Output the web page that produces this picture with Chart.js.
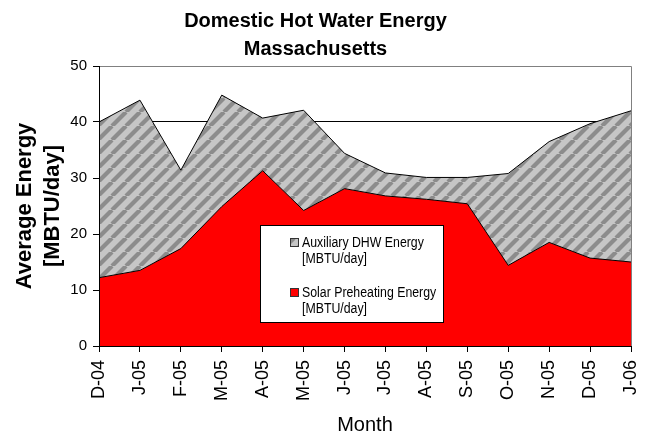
<!DOCTYPE html>
<html>
<head>
<meta charset="utf-8">
<script src="https://cdn.jsdelivr.net/npm/chart.js@4.4.1/dist/chart.umd.min.js"></script>
<style>
  html, body { margin: 0; padding: 0; background: #fff; }
  canvas { display: block; }
</style>
</head>
<body>
<canvas id="dhwChart" width="650" height="438"></canvas>
<script>
// データ
const months = ['D-04', 'J-05', 'F-05', 'M-05', 'A-05', 'M-05', 'J-05', 'J-05', 'A-05', 'S-05', 'O-05', 'N-05', 'D-05', 'J-06'];
const solarEnergy = [12.2, 13.5, 17.4, 24.9, 31.3, 24.2, 28.1, 26.8, 26.2, 25.4, 14.4, 18.5, 15.7, 15.0];
const auxEnergy = [27.8, 30.4, 14.0, 19.9, 9.4, 17.9, 6.3, 4.1, 3.9, 4.7, 16.4, 18.0, 24.0, 27.0];
const yTicks = [0, 10, 20, 30, 40, 50];
const solarLabel = ['Solar Preheating Energy', '[MBTU/day]'];
const auxLabel = ['Auxiliary DHW Energy', '[MBTU/day]'];

const FONT = "'Liberation Sans', Arial, sans-serif";

// 斜線パターン
function makeHatch() {
    const size = 14;
    const c = document.createElement('canvas');
    c.width = size;
    c.height = size;
    const g = c.getContext('2d');
    g.fillStyle = '#c6c6c6';
    g.fillRect(0, 0, size, size);
    g.strokeStyle = '#8c8c8c';
    g.lineWidth = 4.2;
    [-size, 0, size].forEach(off => {
        g.beginPath();
        g.moveTo(off, size);
        g.lineTo(off + size, 0);
        g.stroke();
    });
    return g.createPattern(c, 'repeat');
}

const ctx = document.getElementById('dhwChart').getContext('2d');
const hatch = makeHatch();

// 枠線と凡例
const framePlugin = {
    id: 'frame',
    afterDatasetsDraw(chart) {
        const { ctx, chartArea: a } = chart;
        ctx.save();
        ctx.lineWidth = 1;
        ctx.strokeStyle = '#808080';
        ctx.beginPath();
        ctx.moveTo(a.left, a.top + 0.5);
        ctx.lineTo(a.right + 0.5, a.top + 0.5);
        ctx.lineTo(a.right + 0.5, a.bottom);
        ctx.stroke();
        ctx.strokeStyle = '#000';
        ctx.beginPath();
        ctx.moveTo(a.left + 0.5, a.top);
        ctx.lineTo(a.left + 0.5, a.bottom + 0.5);
        ctx.lineTo(a.right + 1, a.bottom + 0.5);
        ctx.stroke();

        // 凡例
        const bx = a.left + 161, by = a.top + 159, bw = 183, bh = 97;
        ctx.fillStyle = '#fff';
        ctx.fillRect(bx, by, bw, bh);
        ctx.strokeStyle = '#000';
        ctx.strokeRect(bx + 0.5, by + 0.5, bw, bh);

        const items = [chart.data.datasets[1], chart.data.datasets[0]];
        ctx.font = '14px ' + FONT;
        ctx.textBaseline = 'alphabetic';
        ctx.textAlign = 'left';
        items.forEach((ds, i) => {
            const y0 = by + 13 + i * 50;
            ctx.fillStyle = ds.backgroundColor;
            ctx.fillRect(bx + 30, y0, 9, 9);
            ctx.strokeStyle = '#333';
            ctx.strokeRect(bx + 30.5, y0 + 0.5, 8, 8);
            ctx.fillStyle = '#000';
            ds.legendLines.forEach((t, j) => {
                ctx.save();
                ctx.translate(bx + 42, y0 + 9 + j * 16);
                ctx.scale(0.88, 1);
                ctx.fillText(t, 0, 0);
                ctx.restore();
            });
        });
        ctx.restore();
    }
};

new Chart(ctx, {
    type: 'line',
    data: {
        labels: months,
        datasets: [{
            label: solarLabel.join(' '),
            legendLines: solarLabel,
            data: solarEnergy,
            backgroundColor: '#ff0000',
            borderColor: '#000',
            borderWidth: 1,
            fill: 'origin',
            pointRadius: 0,
            tension: 0
        }, {
            label: auxLabel.join(' '),
            legendLines: auxLabel,
            data: auxEnergy,
            backgroundColor: hatch,
            borderColor: '#000',
            borderWidth: 1,
            fill: '-1',
            pointRadius: 0,
            tension: 0
        }]
    },
    options: {
        responsive: false,
        animation: false,
        layout: { padding: { left: 0, right: 19, top: 0, bottom: 0 } },
        plugins: {
            legend: { display: false },
            tooltip: { enabled: false },
            title: {
                display: true,
                text: ['Domestic Hot Water Energy', 'Massachusetts'],
                color: '#000',
                font: { family: FONT, size: 20, weight: 'bold', lineHeight: 1.375 },
                padding: { top: 8, bottom: 3 }
            }
        },
        scales: {
            x: {
                offset: false,
                grid: {
                    display: true,
                    drawOnChartArea: false,
                    drawTicks: true,
                    tickLength: 6,
                    color: '#000'
                },
                border: { display: false },
                ticks: {
                    autoSkip: false,
                    minRotation: 90,
                    maxRotation: 90,
                    padding: 8,
                    color: '#000',
                    font: { family: FONT, size: 18 }
                },
                title: {
                    display: true,
                    text: 'Month',
                    color: '#000',
                    font: { family: FONT, size: 20, lineHeight: 1.2 },
                    padding: { top: 0, bottom: 1 }
                },
                afterFit(scale) {
                    scale.height = 92;
                    scale.paddingLeft = 0;
                    scale.paddingRight = 0;
                }
            },
            y: {
                stacked: true,
                min: 0,
                max: 50,
                afterBuildTicks(scale) {
                    scale.ticks = yTicks.map(v => ({ value: v }));
                },
                grid: {
                    color: c => (c.tick && c.tick.value === 50) ? '#808080' : '#000',
                    tickColor: '#000',
                    tickLength: 6,
                    lineWidth: 1
                },
                border: { display: false },
                ticks: {
                    padding: 6,
                    color: '#000',
                    font: { family: FONT, size: 15 }
                },
                title: {
                    display: true,
                    text: ['Average Energy', '[MBTU/day]'],
                    color: '#000',
                    font: { family: FONT, size: 22, weight: 'bold', lineHeight: 1.27 },
                    padding: { top: 11, bottom: 0 }
                },
                afterFit(scale) { scale.width = 99; }
            }
        }
    },
    plugins: [framePlugin]
});
</script>
</body>
</html>
